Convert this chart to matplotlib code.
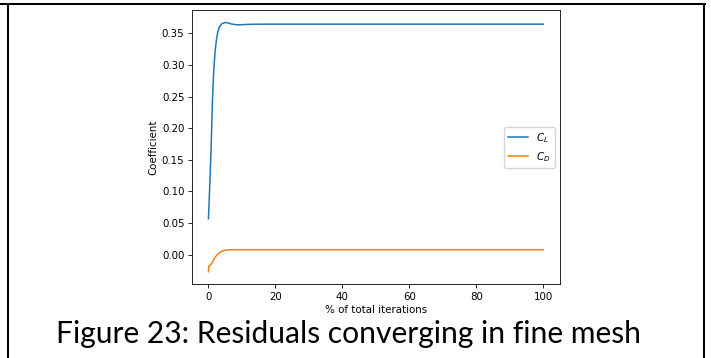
import matplotlib
matplotlib.use('Agg')
import matplotlib.pyplot as plt
from matplotlib.lines import Line2D

# values
iter_cl = [0, 0.4, 0.8, 1.2, 1.6, 2.0, 2.4, 2.8, 3.3, 4.0, 5.0, 6.0, 7.0, 8.5, 10, 12, 15, 20, 40, 60, 80, 100]
cl = [0.057, 0.11, 0.168, 0.245, 0.292, 0.322, 0.340, 0.352, 0.360, 0.365, 0.367, 0.366, 0.3645,
      0.3633, 0.3635, 0.3640, 0.3643, 0.3643, 0.3643, 0.3643, 0.3643, 0.3643]

iter_cd = [0, 0.1, 0.4, 0.8, 1.2, 2.0, 2.8, 3.5, 4.2, 5.0, 6.0, 7.0, 10, 20, 40, 60, 80, 100]
cd = [-0.027, -0.018, -0.017, -0.0150, -0.0115, -0.004, 0.001, 0.004, 0.0060, 0.0072, 0.0078, 0.0080,
      0.0080, 0.0080, 0.0080, 0.0080, 0.0080, 0.0080]

caption = 'Figure 23: Residuals converging in fine mesh'

W, H = 711, 358
fs = 7.4
fig = plt.figure(figsize=(W / 100, H / 100), dpi=100)

ax_l, ax_r, ax_t, ax_b = 191.7, 560.0, 10.0, 284.3
ax = fig.add_axes([ax_l / W, 1 - ax_b / H, (ax_r - ax_l) / W, (ax_b - ax_t) / H])

ax.plot(iter_cl, cl, color='#1f77b4', lw=1.1, label='$C_L$')
ax.plot(iter_cd, cd, color='#ff7f0e', lw=1.1, label='$C_D$')

ax.set_xticks([0, 20, 40, 60, 80, 100])
ax.set_yticks([0.0, 0.05, 0.10, 0.15, 0.20, 0.25, 0.30, 0.35])
ax.yaxis.set_major_formatter(matplotlib.ticker.FormatStrFormatter('%.2f'))
ax.tick_params(labelsize=fs, length=2.6, width=0.6, pad=2.6)
for s in ax.spines.values():
    s.set_linewidth(0.6)
ax.set_xlabel('% of total iterations', fontsize=fs, labelpad=2.6)
ax.set_ylabel('Coefficient', fontsize=fs, labelpad=2.6)
ax.legend(loc='center right', fontsize=fs, handlelength=2.0)

fig.text(348.5 / W, 1 - 334 / H, caption, fontsize=21.6, family='Lato',
         ha='center', va='center')

# table cell borders
lw = 1.45
fig.add_artist(Line2D([0, 705 / W], [1 - 3.5 / H, 1 - 3.5 / H], color='black', lw=lw,
                      transform=fig.transFigure))
fig.add_artist(Line2D([7.5 / W, 7.5 / W], [0, 1 - 3.5 / H], color='black', lw=lw,
                      transform=fig.transFigure))
fig.add_artist(Line2D([704 / W, 704 / W], [0, 1 - 3.5 / H], color='black', lw=lw,
                      transform=fig.transFigure))

fig.savefig('out.png', dpi=100)
